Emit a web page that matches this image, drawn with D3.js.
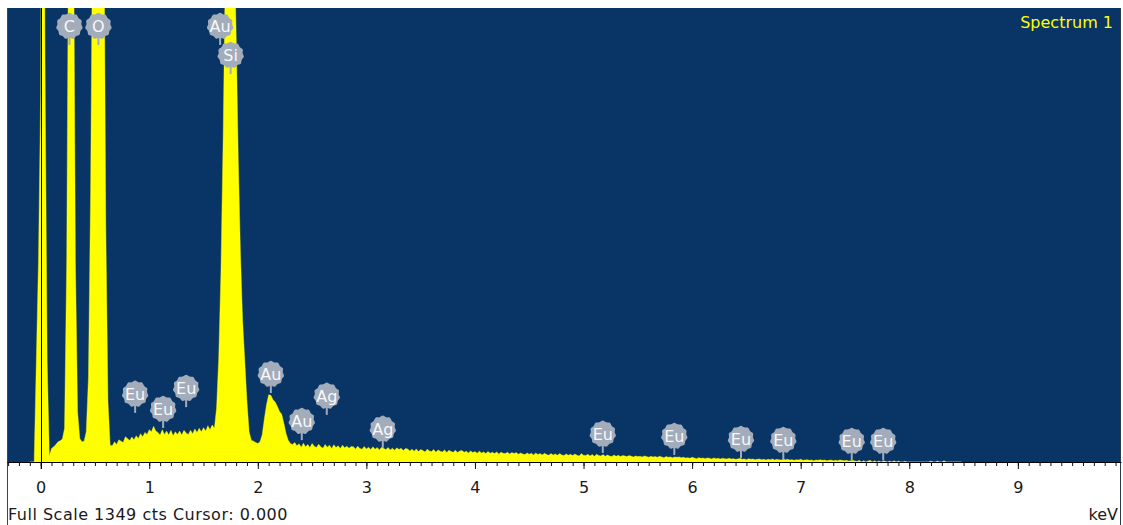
<!DOCTYPE html>
<html>
<head>
<meta charset="utf-8">
<script src="https://cdn.jsdelivr.net/npm/d3@7"></script>
<style>
  html, body { margin: 0; padding: 0; background: #ffffff; overflow: hidden; }
  svg { display: block; }
</style>
</head>
<body>
<svg id="chart" width="1123" height="525"></svg>
<script>
// EDS spectrum: counts per 0.02 keV channel, first channel at -0.10 keV
const startKeV = -0.10;
const channelWidth = 0.02;
const counts = [
  0, 0, 0, 300, 600, 1100, 3000, 1200, 300, 18, 40, 45, 52, 60, 63, 68, 100, 600, 1800, 2600, 1800, 600, 150, 70, 60,
  62, 90, 250, 800, 1700, 3200, 4200, 4300, 3300, 1800, 700, 180, 50, 48, 60, 52, 66, 62, 58, 75, 70, 64, 74, 66,
  78, 70, 84, 75, 88, 82, 96, 90, 106, 92, 88, 80, 96, 82, 92, 80, 94, 78, 90, 82, 92, 80, 94, 86, 82,
  94, 84, 98, 88, 100, 90, 102, 92, 108, 96, 110, 100, 160, 310, 560, 950, 1450, 1800, 1900, 1850, 1600, 1280, 900, 620, 420,
  300, 180, 90, 65, 62, 58, 55, 60, 80, 128, 170, 200, 198, 185, 178, 165, 150, 142, 115, 85, 65, 55, 52, 58, 48,
  54, 44, 56, 45, 52, 43, 55, 47, 43, 53, 45, 41, 52, 44, 50, 40, 51, 43, 48, 40, 50, 42, 47, 41, 46,
  45, 39, 47, 40, 38, 46, 39, 44, 37, 45, 38, 43, 36, 44, 40, 37, 43, 36, 41, 35, 42, 37, 41, 34, 40,
  39, 33, 38, 32, 39, 31, 37, 34, 30, 38, 33, 31, 37, 29, 36, 32, 30, 36, 28, 35, 31, 29, 35, 28, 33,
  34, 29, 32, 27, 33, 28, 31, 26, 32, 27, 30, 25, 31, 26, 29, 25, 30, 24, 29, 26, 25, 29, 24, 28, 25,
  28, 23, 27, 24, 22, 27, 23, 26, 21, 27, 22, 25, 21, 26, 22, 20, 25, 21, 24, 20, 25, 21, 19, 24, 20,
  23, 19, 24, 20, 18, 25, 20, 19, 23, 18, 22, 17, 23, 19, 18, 22, 17, 21, 18, 16, 21, 17, 20, 16, 19,
  18, 16, 19, 17, 15, 18, 16, 17, 15, 18, 16, 14, 17, 15, 16, 14, 17, 15, 13, 16, 14, 15, 13, 15, 14,
  15, 13, 14, 12, 13, 11, 14, 12, 10, 13, 11, 12, 10, 12, 11, 9, 12, 10, 11, 9, 11, 10, 9, 11, 9,
  10, 8, 9, 11, 8, 9, 7, 10, 8, 9, 7, 8, 9, 7, 8, 6, 8, 7, 9, 6, 8, 7, 6, 8, 7,
  8, 6, 7, 5, 7, 6, 8, 5, 6, 7, 5, 6, 4, 6, 5, 7, 5, 6, 4, 5, 6, 4, 5, 4, 6,
  5, 4, 5, 3, 4, 5, 3, 2, 5, 0, 4, 0, 3, 5, 0, 4, 0, 3, 0, 4, 2, 0, 3, 0, 4,
  0, 3, 0, 0, 2, 0, 0, 0, 0, 0, 0, 0, 0, 0, 0, 0, 3, 0, 0, 3, 0, 0, 4, 0, 0,
  0, 0, 0, 0, 0, 0
];

const fullScale = 1349;       // cts at the top of the plot
const cursorKeV = 0.000;
const spectrumName = "Spectrum 1";
const energyUnit = "keV";
const majorTicks = [0, 1, 2, 3, 4, 5, 6, 7, 8, 9];
const viewKeV = [-0.31, 9.95];

// Element line markers: symbol, energy (keV), count level of the marker tip
const markerElements = ["C", "O", "Au", "Si", "Eu", "Eu", "Eu", "Au", "Au", "Ag", "Ag", "Eu", "Eu", "Eu", "Eu", "Eu", "Eu"];
const markerKeV      = [0.265, 0.532, 1.653, 1.75, 0.87, 1.128, 1.34, 2.12, 2.405, 2.635, 3.151, 5.177, 5.836, 6.45, 6.84, 7.47, 7.76];
const markerCounts   = [1239, 1239, 1239, 1153, 146, 101, 163, 205, 65, 140, 42, 27, 21, 12, 9, 6, 6];

// ---- layout ----
const W = 1123, H = 525;
const plot = { left: 7, top: 8, right: 1121, bottom: 462 };
const bg = "#083466";
const spectrumColor = "#ffff00";
const markerColor = "#a3acba";
const font = "'DejaVu Sans', Verdana, sans-serif";

const svg = d3.select("#chart");

const x = d3.scaleLinear().domain(viewKeV).range([plot.left, plot.right]);
const y = d3.scaleLinear().domain([0, fullScale]).range([plot.bottom, plot.top]);

const spectrum = counts.map((c, i) => ({ e: startKeV + i * channelWidth, c }));

// plot background
svg.append("rect")
  .attr("x", plot.left).attr("y", plot.top)
  .attr("width", plot.right - plot.left).attr("height", plot.bottom - plot.top)
  .attr("fill", bg);

svg.append("defs").append("clipPath").attr("id", "plotClip")
  .append("rect")
  .attr("x", plot.left).attr("y", plot.top)
  .attr("width", plot.right - plot.left).attr("height", plot.bottom - plot.top);

// spectrum fill
const area = d3.area()
  .x(d => x(d.e))
  .y0(y(0))
  .y1(d => y(d.c))
  .curve(d3.curveLinear);

svg.append("g").attr("clip-path", "url(#plotClip)")
  .append("path")
  .datum(spectrum)
  .attr("d", area)
  .attr("fill", spectrumColor)
  .attr("stroke", spectrumColor)
  .attr("stroke-width", 0.4);

// frame sides running down through the footer
svg.append("line")
  .attr("x1", plot.left + 0.5).attr("x2", plot.left + 0.5)
  .attr("y1", plot.top).attr("y2", H)
  .attr("stroke", "#1c4a82").attr("stroke-width", 1);
svg.append("line")
  .attr("x1", plot.right - 0.5).attr("x2", plot.right - 0.5)
  .attr("y1", plot.top).attr("y2", H)
  .attr("stroke", "#2a3c55").attr("stroke-width", 1);

// energy axis: minor ticks every 0.1 keV, labelled majors every 1 keV
const minorTicks = d3.range(Math.ceil(viewKeV[0] * 10), Math.floor(viewKeV[1] * 10) + 1).map(i => i / 10);

const minorAxis = d3.axisBottom(x)
  .tickValues(minorTicks)
  .tickSize(4)
  .tickSizeOuter(0)
  .tickFormat("");

const majorAxis = d3.axisBottom(x)
  .tickValues(majorTicks)
  .tickSize(7)
  .tickSizeOuter(0)
  .tickPadding(13)
  .tickFormat(d3.format("d"));

const gMinor = svg.append("g")
  .attr("transform", `translate(0,${plot.bottom})`)
  .call(minorAxis);
gMinor.select(".domain").attr("stroke", "#000");
gMinor.selectAll(".tick line").attr("stroke", "#111");

const gMajor = svg.append("g")
  .attr("transform", `translate(0,${plot.bottom})`)
  .call(majorAxis);
gMajor.select(".domain").remove();
gMajor.selectAll(".tick line").attr("stroke", "#111");
gMajor.selectAll(".tick text")
  .attr("fill", "#1a1a1a")
  .style("font-family", font)
  .style("font-size", "16px");

// cursor line
const cx0 = Math.round(x(cursorKeV)) + 0.5;
svg.append("line")
  .attr("x1", cx0).attr("x2", cx0)
  .attr("y1", plot.top).attr("y2", plot.bottom + 7)
  .attr("stroke", "#000").attr("stroke-width", 1);

// element markers: bumpy disc on a short stem
const markerR = 13;
const stemLen = 6;
const bumps = 22;
const bubble = d3.lineRadial()
  .angle(d => d[0])
  .radius(d => d[1])
  .curve(d3.curveCardinalClosed)(
    d3.range(bumps).map(i => [i / bumps * 2 * Math.PI, i % 2 ? markerR - 0.9 : markerR + 0.3])
  );

const markers = markerElements.map((el, i) => ({ el, e: markerKeV[i], c: markerCounts[i] }));
const gMarkers = svg.append("g");
markers.forEach(m => {
  const tipY = y(m.c);
  const mx = x(m.e);
  const my = tipY - stemLen - markerR;
  const g = gMarkers.append("g").attr("transform", `translate(${mx},${my})`);
  g.append("line")
    .attr("x1", 0).attr("x2", 0)
    .attr("y1", markerR - 2).attr("y2", markerR + stemLen)
    .attr("stroke", markerColor).attr("stroke-width", 2);
  g.append("path")
    .attr("d", bubble)
    .attr("fill", markerColor);
  g.append("text")
    .attr("text-anchor", "middle")
    .attr("y", 5.8)
    .attr("fill", "#f7f8fa")
    .style("font-family", font)
    .style("font-size", "16px")
    .text(m.el);
});

// spectrum title
svg.append("text")
  .attr("x", 1113).attr("y", 28)
  .attr("text-anchor", "end")
  .attr("fill", spectrumColor)
  .style("font-family", font)
  .style("font-size", "16px")
  .text(spectrumName);

// footer
svg.append("text")
  .attr("x", 8).attr("y", 520)
  .attr("fill", "#1a1a1a")
  .style("font-family", font)
  .style("font-size", "16px")
  .style("letter-spacing", "0.5px")
  .text(`Full Scale ${fullScale} cts Cursor: ${cursorKeV.toFixed(3)}`);

svg.append("text")
  .attr("x", 1118).attr("y", 520)
  .attr("text-anchor", "end")
  .attr("fill", "#1a1a1a")
  .style("font-family", font)
  .style("font-size", "16px")
  .text(energyUnit);
</script>
</body>
</html>
